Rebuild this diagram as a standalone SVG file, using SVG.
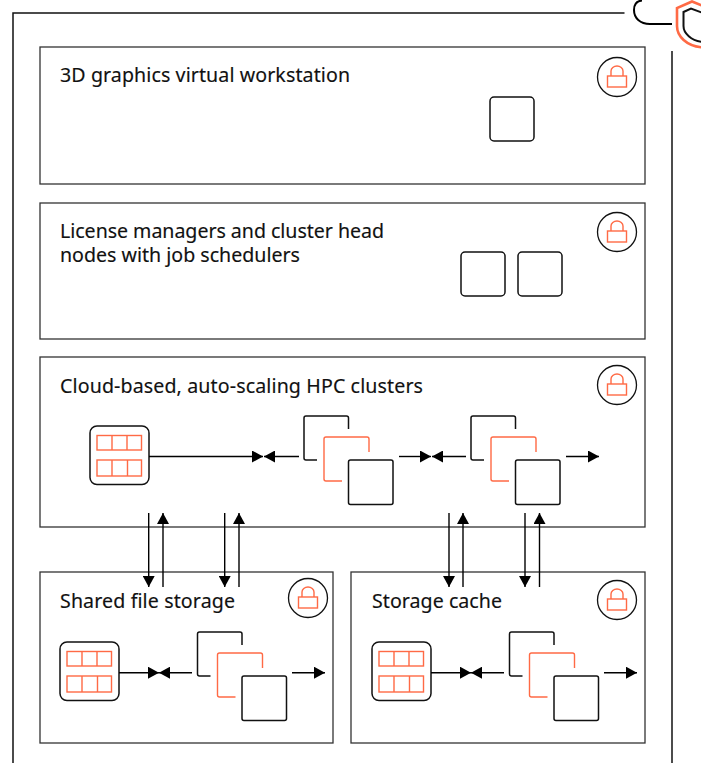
<svg xmlns="http://www.w3.org/2000/svg" width="701" height="763" viewBox="0 0 701 763">
<style>
.box{fill:#fff;stroke:#333;stroke-width:1.3}
.k{fill:none;stroke:#111;stroke-width:1.5}
.o{fill:none;stroke:#ff6a45;stroke-width:1.4}
.w{fill:#fff;stroke:#111;stroke-width:1.5}
.ca{fill:none;stroke:#000;stroke-width:1.4;marker-end:url(#a)}
text{font-family:"Noto Sans","Open Sans",sans-serif;font-size:19.6px;fill:#111;stroke:#111;stroke-width:.15}
</style>
<defs>
<marker id="a" markerUnits="userSpaceOnUse" markerWidth="11" markerHeight="12" refX="11" refY="6" orient="auto"><path d="M0,0L11,6L0,12Z" fill="#000"/></marker>
<g id="lock"><circle r="19.5" fill="#fff" stroke="#111" stroke-width="1.3"/><rect x="-9.500" y="-1" width="19" height="11" class="o"/><path d="M-6,-1V-6a6,5 0 0 1 12,0V-1" class="o"/></g>
<g id="stack"><path d="M44.500,14V3a2,2 0 0 0-2-2H2a2,2 0 0 0-2,2V43a2,2 0 0 0 2,2H13" class="k"/><path d="M65,37V24a2,2 0 0 0-2-2H22a2,2 0 0 0-2,2V64a2,2 0 0 0 2,2H38" class="o"/><rect x="44.500" y="45" width="44.500" height="44.500" rx="2" class="w"/></g>
<g id="ctr"><rect x="0" y="0" width="59" height="58.500" rx="7" class="w"/><rect x="7" y="9.500" width="44.500" height="14.500" class="o"/><path d="M22,9.500V24M37,9.500V24" class="o"/><rect x="7" y="34" width="44.500" height="16" class="o"/><path d="M22,34V50M37.500,34V50" class="o"/></g>
</defs>
<g id="frame">
<path d="M624.500,13H13V763" class="k"/><path d="M672,51V763" class="k"/>
<path d="M642,0.500C636,1 634,5 634,10C634,18 640,24 650,24H672" fill="none" stroke="#000" stroke-width="2"/>
<path d="M703,6L692,1.500L677,8V26C677,36 686,46 703,47.500" fill="#fff" stroke="#ff6a45" stroke-width="2.600"/>
<path d="M703,13L691,8.500L683.500,12V26C683.500,33 691,41 703,42" fill="none" stroke="#111" stroke-width="2"/>
</g>
<g id="workstation"><rect class="box" x="40" y="47" width="605" height="137"/><text x="60" y="82" textLength="290">3D graphics virtual workstation</text><use href="#lock" x="617" y="77"/><rect x="490" y="97" width="44" height="44" rx="4" class="w"/></g>
<g id="license"><rect class="box" x="40" y="203" width="605" height="136"/><text x="60" y="238" textLength="324">License managers and cluster head</text><text x="60" y="262" textLength="240">nodes with job schedulers</text><use href="#lock" x="617" y="232"/><rect x="461" y="252" width="44" height="44" rx="4" class="w"/><rect x="518" y="252" width="44" height="44" rx="4" class="w"/></g>
<g id="hpc"><rect class="box" x="40" y="357" width="605" height="170"/><text x="60" y="393" textLength="363">Cloud-based, auto-scaling HPC clusters</text><use href="#lock" x="617" y="385"/><use href="#ctr" x="90" y="426"/><use href="#stack" x="304" y="415"/><use href="#stack" x="471" y="415"/></g>
<g id="shared"><rect class="box" x="40" y="572" width="293" height="171"/><text x="60" y="608" textLength="175">Shared file storage</text><use href="#lock" x="308" y="598"/><use href="#ctr" x="60" y="642"/><use href="#stack" x="197.500" y="631"/></g>
<g id="cache"><rect class="box" x="351" y="572" width="294" height="171"/><text x="372" y="608" textLength="130">Storage cache</text><use href="#lock" x="617" y="600"/><use href="#ctr" x="372" y="642"/><use href="#stack" x="509.500" y="631"/></g>
<g id="connectors">
<path class="ca" d="M149,456.500H263"/><path class="ca" d="M299,456.500H264"/>
<path class="ca" d="M399,456.500H431"/><path class="ca" d="M466,456.500H432"/>
<path class="ca" d="M566,456.500H599"/>
<path class="ca" d="M119,672.700H159"/><path class="ca" d="M192,672.700H159"/>
<path class="ca" d="M292,672.700H325"/>
<path class="ca" d="M431,672.700H471"/><path class="ca" d="M504,672.700H471"/>
<path class="ca" d="M604,672.700H637"/>
<path class="ca" d="M148.700,513V587"/><path class="ca" d="M163,587V513"/>
<path class="ca" d="M224.700,513V587"/><path class="ca" d="M239,587V513"/>
<path class="ca" d="M449,513V587"/><path class="ca" d="M463,587V513"/>
<path class="ca" d="M525,513V587"/><path class="ca" d="M539.500,587V513"/>
</g>
</svg>
